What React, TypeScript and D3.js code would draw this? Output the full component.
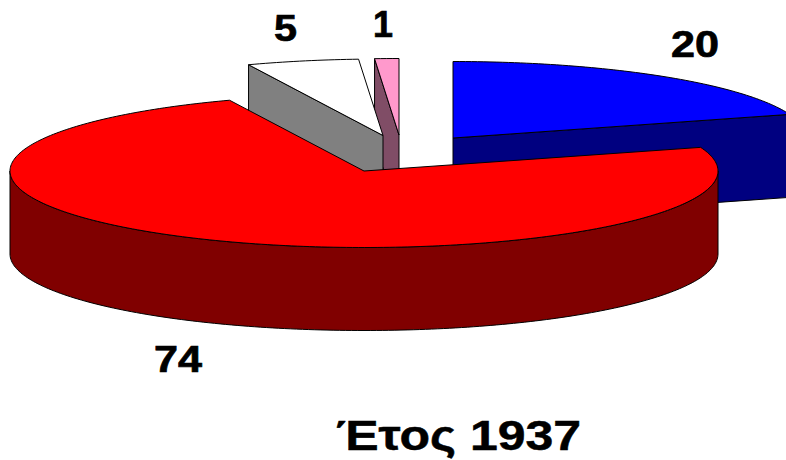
import React from "react";
import * as d3 from "d3";

const sliceNames = ["a", "b", "c", "d"];
const sliceValues = [20, 73.8, 5.1, 1.1];
const sliceLabels = ["20", "74", "5", "1"];
const titleText = "Έτος 1937";

// Styling and layout, separate from the data
const topColors = ["#0000ff", "#ff0000", "#ffffff", "#ff99cc"];
const sideColors = ["#000080", "#800000", "#808080", "#804d66"];
const explodedCentres: [number, number][] = [[453, 138], [364, 171], [383, 135.5], [399, 135]];
const labelBoxes: [number, number, number][] = [[672, 57, 46], [155, 372, 46], [275, 41, 21], [374, 37, 18]];
const paintOrder = [0, 3, 2, 1];
const RX = 354;
const RY = 76.5;
const DEPTH = 83;
const W = 786;
const H = 460;

const line = d3.line<[number, number]>().x((d) => d[0]).y((d) => d[1]);

export default function App() {
  const arcs = d3.pie<number>().sort(null).startAngle(0).endAngle(2 * Math.PI)(sliceValues);
  const rScale = d3.scaleLinear().domain([0, 1]).range([0, RX]);

  const rim = (c: [number, number], a: number, dy = 0): [number, number] => [
    c[0] + rScale(1) * Math.sin(a),
    c[1] - (RY * Math.cos(a)) + dy,
  ];
  const rimRange = (c: [number, number], a0: number, a1: number, dy = 0) => {
    const n = Math.max(2, Math.ceil(((a1 - a0) * 180) / Math.PI));
    return d3.range(n + 1).map((i) => rim(c, a0 + ((a1 - a0) * i) / n, dy));
  };

  return (
    <svg
      width={W}
      height={H}
      viewBox={`0 0 ${W} ${H}`}
      style={{ position: "absolute", left: 0, top: 0, background: "#fff" }}
    >
      {paintOrder.map((idx) => {
        const arc = arcs[idx];
        const c = explodedCentres[idx];
        const a0 = arc.startAngle;
        const a1 = arc.endAngle;
        const faces: [number, number][][] = [];
        if (-Math.sin(a0) > 1e-6) {
          const p = rim(c, a0);
          faces.push([c, p, [p[0], p[1] + DEPTH], [c[0], c[1] + DEPTH]]);
        }
        if (Math.sin(a1) > 1e-6) {
          const p = rim(c, a1);
          faces.push([c, p, [p[0], p[1] + DEPTH], [c[0], c[1] + DEPTH]]);
        }
        const w0 = Math.max(a0, Math.PI / 2);
        const w1 = Math.min(a1, (3 * Math.PI) / 2);
        if (w1 > w0) {
          faces.push([...rimRange(c, w0, w1), ...rimRange(c, w0, w1, DEPTH).reverse()]);
        }
        const top: [number, number][] = [c, ...rimRange(c, a0, a1)];
        return (
          <g key={sliceNames[idx]} stroke="#000" strokeWidth={1} strokeLinejoin="round">
            {faces.map((f, i) => (
              <path key={i} d={line(f) + "Z"} fill={sideColors[idx]} />
            ))}
            <path d={line(top) + "Z"} fill={topColors[idx]} />
          </g>
        );
      })}
      <g fontFamily="'Liberation Sans', Arial, sans-serif" fontWeight="bold" fontSize={36} fill="#000" stroke="#000" strokeWidth={0.7}>
        {sliceLabels.map((t, i) => (
          <text
            key={t}
            x={labelBoxes[i][0] - 1}
            y={labelBoxes[i][1]}
            textLength={labelBoxes[i][2] + 2}
            lengthAdjust="spacingAndGlyphs"
          >
            {t}
          </text>
        ))}
        <text x={336} y={450} fontSize={43} strokeWidth={0.5} textLength={245} lengthAdjust="spacingAndGlyphs">
          {titleText}
        </text>
      </g>
    </svg>
  );
}
